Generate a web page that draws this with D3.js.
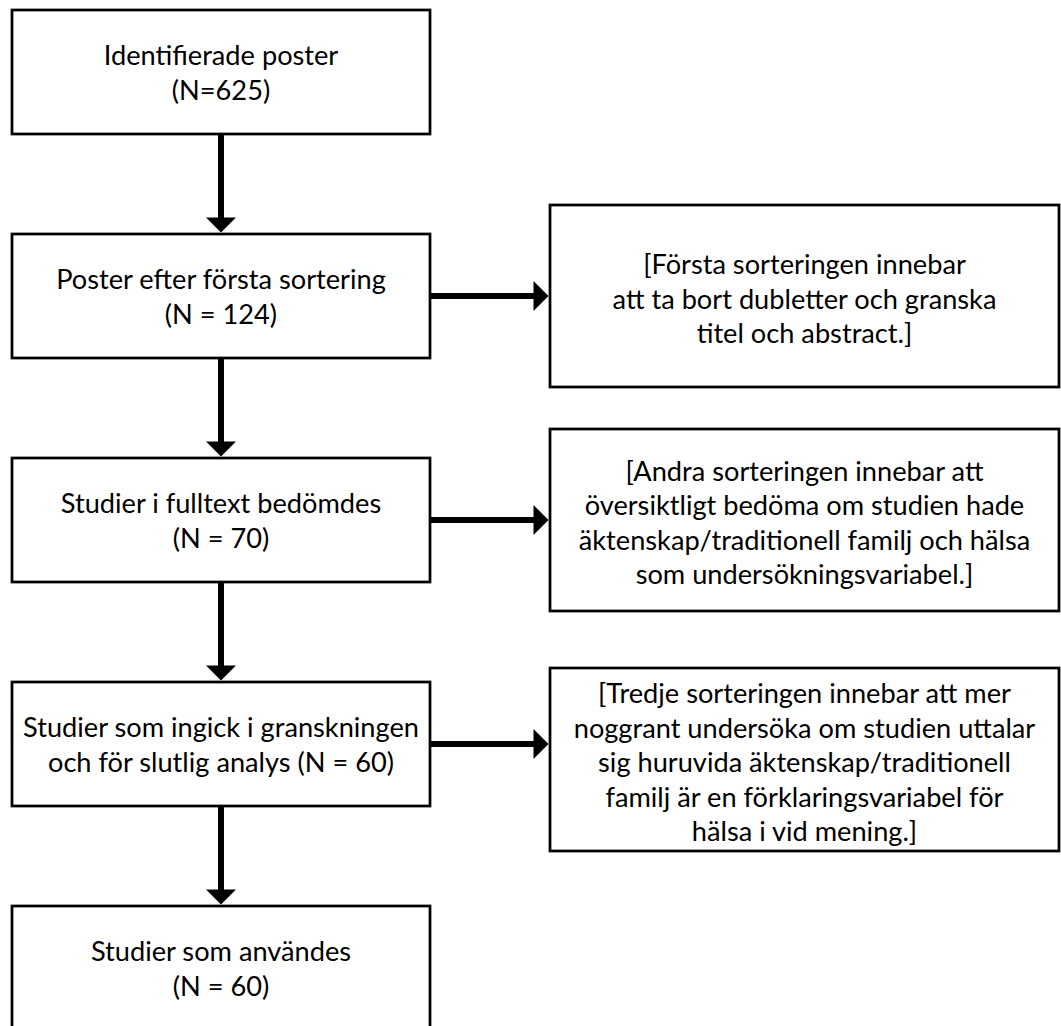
<!DOCTYPE html>
<html>
<head>
<meta charset="utf-8">
<script src="https://cdn.jsdelivr.net/npm/d3@7"></script>
<style>
  html, body { margin: 0; padding: 0; background: #fff; }
  svg { display: block; }
</style>
</head>
<body>
<svg id="chart" width="1061" height="1026"></svg>
<script>
// ---- Data ----
const stages = ["s1", "s2", "s3", "s4", "s5"];
const mainLines = [
  ["Identifierade poster", "(N=625)"],
  ["Poster efter första sortering", "(N = 124)"],
  ["Studier i fulltext bedömdes", "(N = 70)"],
  ["Studier som ingick i granskningen", "och för slutlig analys (N = 60)"],
  ["Studier som användes", "(N = 60)"]
];
const sideStages = ["s2", "s3", "s4"];
const sideLines = [
  ["[Första sorteringen innebar", "att ta bort dubletter och granska", "titel och abstract.]"],
  ["[Andra sorteringen innebar att", "översiktligt bedöma om studien hade", "äktenskap/traditionell familj och hälsa", "som undersökningsvariabel.]"],
  ["[Tredje sorteringen innebar att mer", "noggrant undersöka om studien uttalar", "sig huruvida äktenskap/traditionell", "familj är en förklaringsvariabel för", "hälsa i vid mening.]"]
];

// ---- Layout ----
const svg = d3.select("#chart");
const FONT = "Lato, 'Open Sans', sans-serif";
const boxH = 124;
const mainX = d3.scaleLinear().domain([0, 1]).range([12, 430]);
const yStage = d3.scalePoint().domain(stages).range([10, 906]);
const sideX = d3.scaleLinear().domain([0, 1]).range([550, 1059]);
const sideBoxes = [
  { top: 205, bottom: 387 },
  { top: 429, bottom: 611 },
  { top: 668, bottom: 851 }
];

// font size fitted so the reference line has the measured width
const probe = svg.append("text").attr("font-family", FONT).attr("font-size", 29)
  .text("Studier som ingick i granskningen");
const w = probe.node().getComputedTextLength();
probe.remove();
const fontSize = 29 * 396 / w;
const lineH = 34.5;

function drawText(g, lines, cx, cy) {
  const n = lines.length;
  const t = g.append("text")
    .attr("font-family", FONT)
    .attr("font-size", fontSize)
    .attr("fill", "#000")
    .attr("text-anchor", "middle");
  lines.forEach((l, i) => {
    t.append("tspan")
      .attr("x", cx)
      .attr("y", cy + (i - (n - 1) / 2) * lineH)
      .attr("dy", "0.35em")
      .text(l);
  });
}

// main boxes
const mg = svg.append("g");
stages.forEach((s, i) => {
  const y = yStage(s);
  mg.append("rect")
    .attr("x", mainX(0)).attr("y", y)
    .attr("width", mainX(1) - mainX(0)).attr("height", boxH)
    .attr("fill", "#fff").attr("stroke", "#000").attr("stroke-width", 2.75);
  drawText(mg, mainLines[i], (mainX(0) + mainX(1)) / 2, y + boxH / 2 + 1);
});

// side boxes
sideStages.forEach((s, i) => {
  const b = sideBoxes[i];
  mg.append("rect")
    .attr("x", sideX(0)).attr("y", b.top)
    .attr("width", sideX(1) - sideX(0)).attr("height", b.bottom - b.top)
    .attr("fill", "#fff").attr("stroke", "#000").attr("stroke-width", 2.75);
  drawText(mg, sideLines[i], (sideX(0) + sideX(1)) / 2, (b.top + b.bottom) / 2 + 3);
});

// arrows
const ag = svg.append("g");
const headL = 15, headW = 15, shaft = 6;
const cxMain = (mainX(0) + mainX(1)) / 2;
for (let i = 0; i < stages.length - 1; i++) {
  const y0 = yStage(stages[i]) + boxH + 1;
  const y1 = yStage(stages[i + 1]) - 1.5;
  ag.append("line")
    .attr("x1", cxMain).attr("x2", cxMain)
    .attr("y1", y0).attr("y2", y1 - headL + 1)
    .attr("stroke", "#000").attr("stroke-width", shaft);
  ag.append("path")
    .attr("d", d3.line()([[cxMain - headW, y1 - headL], [cxMain + headW, y1 - headL], [cxMain, y1]]) + "Z")
    .attr("fill", "#000");
}
sideStages.forEach((s) => {
  const y = yStage(s) + boxH / 2;
  const x0 = mainX(1) + 1, x1 = sideX(0) - 1.5;
  ag.append("line")
    .attr("x1", x0).attr("x2", x1 - headL + 1)
    .attr("y1", y).attr("y2", y)
    .attr("stroke", "#000").attr("stroke-width", shaft);
  ag.append("path")
    .attr("d", d3.line()([[x1 - headL, y - headW], [x1 - headL, y + headW], [x1, y]]) + "Z")
    .attr("fill", "#000");
});
</script>
</body>
</html>
